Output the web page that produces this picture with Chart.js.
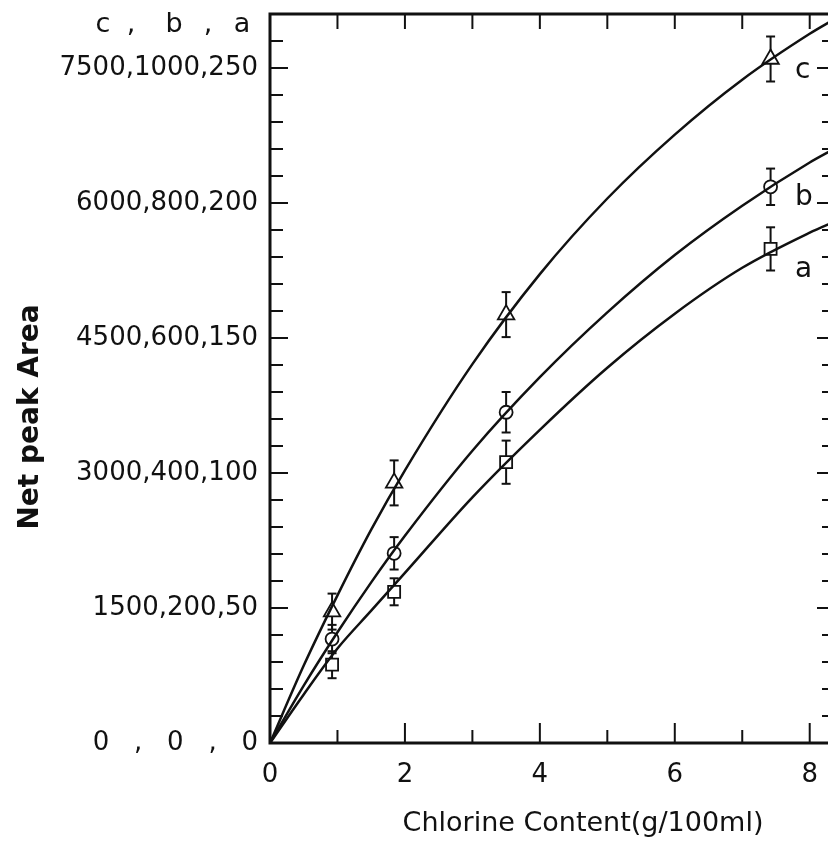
<!DOCTYPE html>
<html>
<head>
<meta charset="utf-8">
<script src="https://cdn.jsdelivr.net/npm/chart.js@4.4.1/dist/chart.umd.min.js"></script>
<style>
  html, body { margin: 0; padding: 0; background: #fff; overflow: hidden; }
  #wrap { position: relative; width: 828px; height: 844px; overflow: hidden; }
  #chart { position: absolute; left: 0; top: 0; }
</style>
</head>
<body>
<div id="wrap"><canvas id="chart" width="846" height="844"></canvas></div>
<script>
// measured points (chlorine content, g/100ml)
const sampleX = [0.92, 1.84, 3.5, 7.42];
const seriesA = [29, 56, 104, 183];
const seriesB = [154, 281, 490, 824];
const seriesC = [1460, 2890, 4760, 7600];
const errA = [5, 5, 8, 8];
const errB = [21, 24, 30, 27];
const errC = [200, 250, 250, 250];

// calibration curves
const curveX = [0, 0.5, 1, 1.5, 2, 3, 4, 5, 6, 7, 8, 8.36];
const curveA = [0, 18, 35, 49, 63, 91, 116, 139, 159, 176, 189, 193];
const curveB = [0, 85, 164, 238, 307, 433, 542, 638, 723, 796, 860, 880];
const curveC = [0, 860, 1640, 2370, 3030, 4210, 5210, 6050, 6760, 7370, 7880, 8040];

// axes
const xTicks = [0, 2, 4, 6, 8];
const yTicks = [0, 1500, 3000, 4500, 6000, 7500];
const yTickLabels = ['0   ,   0   ,   0', '1500,200,50', '3000,400,100', '4500,600,150', '6000,800,200', '7500,1000,250'];
const X_MAX = 8.36;
const C_MAX = 8100, B_MAX = 1080, A_MAX = 270;

const FONT = "'DejaVu Sans', sans-serif";
const INK = '#111';

const pts = (xs, ys) => xs.map((x, i) => ({ x: x, y: ys[i] }));

function line(ctx, x1, y1, x2, y2) {
  ctx.beginPath();
  ctx.moveTo(x1, y1);
  ctx.lineTo(x2, y2);
  ctx.stroke();
}

// error bars, frame, inward ticks and free text
const decorations = {
  id: 'decorations',
  beforeDatasetsDraw(chart) {
    const ctx = chart.ctx;
    const xs = chart.scales.x;
    const groups = [
      [seriesA, errA, chart.scales.ya],
      [seriesB, errB, chart.scales.yb],
      [seriesC, errC, chart.scales.y],
    ];
    ctx.save();
    ctx.strokeStyle = INK;
    ctx.lineWidth = 2;
    groups.forEach(([vals, errs, ys]) => {
      sampleX.forEach((x, i) => {
        const px = xs.getPixelForValue(x);
        const top = ys.getPixelForValue(vals[i] + errs[i]);
        const bot = ys.getPixelForValue(vals[i] - errs[i]);
        line(ctx, px, top, px, bot);
        line(ctx, px - 4.5, top, px + 4.5, top);
        line(ctx, px - 4.5, bot, px + 4.5, bot);
      });
    });
    ctx.restore();
  },
  afterDraw(chart) {
    const ctx = chart.ctx;
    const { left, right, top, bottom } = chart.chartArea;
    const xs = chart.scales.x, ys = chart.scales.y;
    ctx.save();
    ctx.strokeStyle = INK;
    ctx.lineWidth = 3;
    ctx.strokeRect(left, top, right - left, bottom - top);

    ctx.lineWidth = 2;
    for (let v = 300; v < C_MAX; v += 300) {
      const py = ys.getPixelForValue(v);
      const major = v % 1500 === 0;
      line(ctx, left, py, left + (major ? 18 : 13), py);
      line(ctx, right, py, right - (major ? 17 : 12), py);
    }
    for (let x = 1; x <= 8; x++) {
      const px = xs.getPixelForValue(x);
      line(ctx, px, top, px, top + 15);
      line(ctx, px, bottom, px, bottom - (x % 2 === 0 ? 20 : 13));
    }

    ctx.fillStyle = INK;
    ctx.textBaseline = 'alphabetic';
    ctx.textAlign = 'center';
    ctx.font = '27px ' + FONT;
    [['c', 103], [',', 131], ['b', 174], [',', 208], ['a', 242]].forEach(([t, x]) => ctx.fillText(t, x, 32));

    ctx.font = '28px ' + FONT;
    ctx.textAlign = 'left';
    ctx.fillText('c', 795, 78);
    ctx.fillText('b', 795, 205);
    ctx.fillText('a', 795, 277);

    ctx.textAlign = 'center';
    ctx.font = '27px ' + FONT;
    ctx.fillText('Chlorine Content(g/100ml)', 583, 831);

    ctx.translate(38, 417);
    ctx.rotate(-Math.PI / 2);
    ctx.font = 'bold 28px ' + FONT;
    ctx.fillText('Net peak Area', 0, 0);
    ctx.restore();
  }
};

const curveStyle = {
  type: 'line',
  showLine: true,
  pointRadius: 0,
  borderColor: INK,
  borderWidth: 2.5,
  fill: false,
  cubicInterpolationMode: 'monotone',
};
const markerStyle = {
  type: 'scatter',
  showLine: false,
  backgroundColor: '#fff',
  borderColor: INK,
  borderWidth: 1.8,
};

new Chart(document.getElementById('chart'), {
  data: {
    datasets: [
      { ...curveStyle, label: 'a curve', data: pts(curveX, curveA), yAxisID: 'ya' },
      { ...curveStyle, label: 'b curve', data: pts(curveX, curveB), yAxisID: 'yb' },
      { ...curveStyle, label: 'c curve', data: pts(curveX, curveC), yAxisID: 'y' },
      { ...markerStyle, label: 'a', data: pts(sampleX, seriesA), yAxisID: 'ya', pointStyle: 'rect', pointRadius: 8.5 },
      { ...markerStyle, label: 'b', data: pts(sampleX, seriesB), yAxisID: 'yb', pointStyle: 'circle', pointRadius: 6.5 },
      { ...markerStyle, label: 'c', data: pts(sampleX, seriesC), yAxisID: 'y', pointStyle: 'triangle', pointRadius: 9.5 },
    ],
  },
  options: {
    responsive: false,
    animation: false,
    layout: { padding: { top: 14, right: 12, left: 0, bottom: 0 } },
    plugins: { legend: { display: false }, tooltip: { enabled: false } },
    scales: {
      x: {
        type: 'linear',
        min: 0,
        max: X_MAX,
        grid: { display: false, drawTicks: false },
        border: { display: false },
        afterBuildTicks: (s) => { s.ticks = xTicks.map(v => ({ value: v })); },
        afterFit: (s) => { s.height = 101; s.paddingLeft = 0; s.paddingRight = 0; },
        ticks: { color: INK, padding: 17, font: { family: FONT, size: 26 }, maxRotation: 0 },
      },
      y: {
        type: 'linear',
        position: 'left',
        min: 0,
        max: C_MAX,
        grid: { display: false, drawTicks: false },
        border: { display: false },
        afterBuildTicks: (s) => { s.ticks = yTicks.map(v => ({ value: v })); },
        afterFit: (s) => { s.width = 270; s.paddingTop = 0; s.paddingBottom = 0; },
        ticks: {
          color: INK,
          padding: 12,
          font: { family: FONT, size: 26 },
          callback: (v) => yTickLabels[yTicks.indexOf(v)],
        },
      },
      yb: { type: 'linear', display: false, min: 0, max: B_MAX },
      ya: { type: 'linear', display: false, min: 0, max: A_MAX },
    },
  },
  plugins: [decorations],
});
</script>
</body>
</html>
